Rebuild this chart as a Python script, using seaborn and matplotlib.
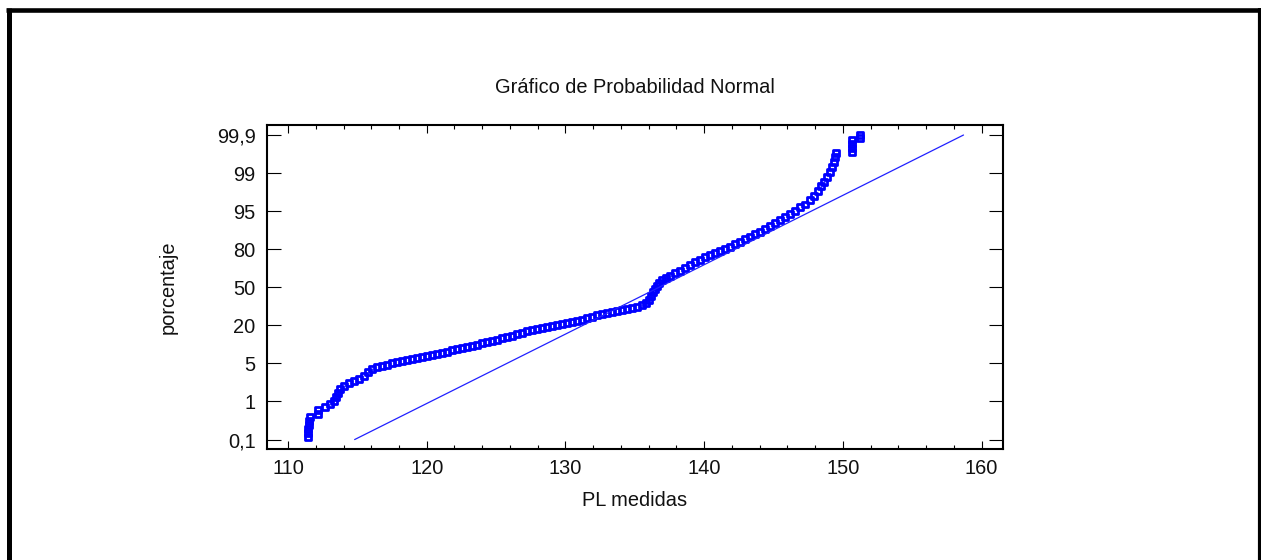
import numpy as np
import matplotlib
matplotlib.use("Agg")
import matplotlib.pyplot as plt
import seaborn as sns
from matplotlib.lines import Line2D
from matplotlib.ticker import FixedLocator, MultipleLocator, NullLocator

# Data
pl_medidas = [
    111.42, 111.44, 111.46, 111.48, 111.52, 111.56,
    112.18, 112.18, 112.65, 113.01, 113.29, 113.44, 113.58, 113.73,
    114.02, 114.38, 114.74, 115.10, 115.46, 115.75, 116.03, 116.40,
    116.76, 117.12, 117.48, 117.84, 118.20, 118.56, 118.92, 119.28,
    119.64, 120.00, 120.36, 120.72, 121.08, 121.44, 121.80, 122.16,
    122.52, 122.88, 123.25, 123.61, 123.97, 124.33, 124.69, 125.05,
    125.41, 125.77, 126.13, 126.49, 126.85, 127.21, 127.57, 127.93,
    128.29, 128.65, 129.01, 129.37, 129.73, 130.09, 130.45, 130.82,
    131.18, 131.54, 131.90, 132.26, 132.62, 132.98, 133.34, 133.70,
    134.06, 134.42, 134.78, 135.14, 135.50, 135.79, 136.01, 136.15,
    136.30, 136.44, 136.58, 136.73, 136.94, 137.23, 137.52, 137.88,
    138.24, 138.60, 138.96, 139.32, 139.68, 140.04, 140.40, 140.76,
    141.13, 141.49, 141.85, 142.21, 142.57, 142.93, 143.29, 143.65,
    144.01, 144.37, 144.73, 145.09, 145.45, 145.81, 146.17, 146.53,
    146.89, 147.25, 147.61, 147.90, 148.19, 148.41, 148.62, 148.84,
    149.06, 149.20, 149.35, 149.45, 149.53,
    150.64, 150.64, 150.64, 150.64, 151.22, 151.22,
]
porcentaje = [
    0.154, 0.249, 0.344, 0.438, 0.533, 0.628,
    0.70, 0.79, 0.864, 0.935, 1.03, 1.45, 1.87, 2.29,
    2.60, 2.92, 3.13, 3.34, 3.66, 4.08, 4.39, 4.60,
    4.71, 4.81, 5.09, 5.48, 5.87, 6.27, 6.66, 7.06,
    7.46, 7.85, 8.24, 8.63, 9.23, 9.62, 10.2, 10.6,
    11.0, 11.4, 12.0, 12.4, 13.0, 13.4, 14.0, 14.4,
    14.9, 15.3, 15.9, 16.5, 17.1, 17.7, 18.1, 18.5,
    19.1, 19.5, 19.9, 20.5, 20.9, 21.7, 22.5, 23.3,
    24.5, 25.7, 26.8, 28.0, 29.2, 30.0, 30.8, 31.6,
    32.4, 33.2, 33.9, 34.7, 35.9, 37.5, 39.9, 43.0,
    46.2, 48.5, 50.9, 53.3, 55.6, 57.2, 58.8, 61.2,
    63.1, 65.1, 67.5, 69.8, 71.8, 73.8, 75.4, 76.9,
    78.5, 80.0, 81.0, 82.0, 83.0, 84.0, 85.0, 86.0,
    86.9, 87.9, 89.1, 90.3, 91.5, 92.7, 93.8, 95.0,
    95.4, 95.7, 96.2, 96.6, 97.1, 97.6, 98.1, 98.6,
    99.02, 99.14, 99.26, 99.38, 99.47,
    99.50, 99.59, 99.69, 99.78, 99.83, 99.90,
]

# fitted normal line
fit_x = [114.8, 158.7]
fit_pct = [0.1, 99.9]

pct_ticks = [0.1, 1, 5, 20, 50, 80, 95, 99, 99.9]
pct_labels = ["0,1", "1", "5", "20", "50", "80", "95", "99", "99,9"]
x_ticks = [110, 120, 130, 140, 150, 160]

TICK_POS = np.arange(len(pct_ticks), dtype=float)


def pct_to_pos(p):
    p = np.asarray(p, dtype=float)
    pos = np.interp(p, pct_ticks, TICK_POS)
    pos = np.where(p < pct_ticks[0], (p - pct_ticks[0]) / 0.9, pos)
    pos = np.where(p > pct_ticks[-1], TICK_POS[-1] + (p - pct_ticks[-1]) / 0.9, pos)
    return pos


def pos_to_pct(q):
    q = np.asarray(q, dtype=float)
    p = np.interp(q, TICK_POS, pct_ticks)
    p = np.where(q < 0, pct_ticks[0] + q * 0.9, p)
    p = np.where(q > TICK_POS[-1], pct_ticks[-1] + (q - TICK_POS[-1]) * 0.9, p)
    return p


sns.set_theme(style="ticks")
plt.rcParams['font.family'] = ['Liberation Sans', 'DejaVu Sans']

fig = plt.figure(figsize=(12.61, 5.6), dpi=100)
ax = fig.add_axes([0.2115, 0.1977, 0.5837, 0.5791])

sns.lineplot(x=fit_x, y=fit_pct, color="#2020ff", linewidth=0.9, ax=ax)
sns.scatterplot(x=pl_medidas, y=porcentaje, marker="s", s=18,
                facecolor="none", edgecolor="#0000ff", linewidth=2.0, ax=ax)

ax.set_yscale("function", functions=(pct_to_pos, pos_to_pct))
ax.yaxis.set_major_locator(FixedLocator(pct_ticks))
ax.yaxis.set_minor_locator(NullLocator())
ax.set_yticklabels(pct_labels)
ax.set_ylim(-0.13, 100.137)

ax.set_xlim(108.46, 161.53)
ax.set_xticks(x_ticks)
ax.xaxis.set_minor_locator(MultipleLocator(2))

for s in ax.spines.values():
    s.set_visible(True)
    s.set_linewidth(1.5)
    s.set_color("black")

ax.tick_params(axis="both", which="both", direction="in", top=True, right=True,
               color="black", width=0.8, labelsize=14.4, labelcolor="#111111")
ax.tick_params(axis="x", which="major", length=5.5, pad=7)
ax.tick_params(axis="x", which="minor", length=3)
ax.tick_params(axis="y", which="major", length=10, pad=8)

ax.set_xlabel("PL medidas", fontsize=14.4, color="#111111")
ax.set_ylabel("porcentaje", fontsize=14.4, color="#111111")
ax.xaxis.set_label_coords(0.5, -0.13)
ax.yaxis.set_label_coords(-0.121, 0.5)

fig.text(0.5036, 0.843, "Gráfico de Probabilidad Normal", ha="center", va="center",
         fontsize=14.4, color="#111111")

# page frame (left, top, right)
frame = dict(transform=fig.transFigure, color="black", solid_capstyle="butt")
fig.add_artist(Line2D([8.5 / 1261, 8.5 / 1261], [0, 1 - 8 / 560], linewidth=3.6, **frame))
fig.add_artist(Line2D([6 / 1261, 1], [1 - 10 / 560, 1 - 10 / 560], linewidth=3.3, **frame))
fig.add_artist(Line2D([1259.5 / 1261, 1259.5 / 1261], [0, 1 - 8 / 560], linewidth=3.0, **frame))

fig.savefig("out.png", dpi=100)
